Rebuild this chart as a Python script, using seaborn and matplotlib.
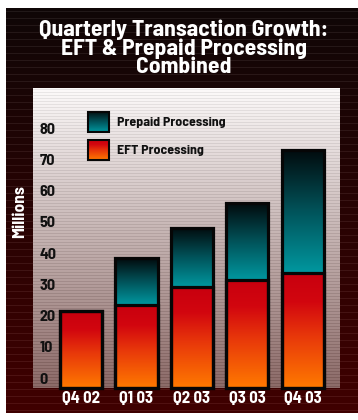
import numpy as np
import matplotlib
matplotlib.use("Agg")
import matplotlib.pyplot as plt
import seaborn as sns
import pandas as pd
from matplotlib.colors import LinearSegmentedColormap
from matplotlib.patches import Rectangle

# ---- data ----
quarters = ["Q4 02", "Q1 03", "Q2 03", "Q3 03", "Q4 03"]
eft = [21.5, 23.5, 29.0, 31.5, 33.5]
prepaid = [0.0, 15.0, 19.0, 24.5, 39.5]
yticks = [0, 10, 20, 30, 40, 50, 60, 70, 80]
title = "Quarterly Transaction Growth:\nEFT & Prepaid Processing\nCombined"
ylabel = "Millions"
series = ["Prepaid Processing", "EFT Processing"]

total = [e + p for e, p in zip(eft, prepaid)]
df = pd.DataFrame({"quarter": quarters, "eft": eft, "total": total})

sns.set_theme(style="white")
FONT = ["Barlow Semi Condensed", "DejaVu Sans"]
plt.rcParams["font.family"] = FONT
plt.rcParams["font.weight"] = "bold"

W, H = 358, 420
fig = plt.figure(figsize=(W / 100, H / 100), dpi=100)
fig.patch.set_facecolor("white")

# ---- dark figure background ----
bg = fig.add_axes([6 / W, 1 - 413 / H, 352 / W, 405 / H], zorder=0)
rows = 405
t = np.linspace(0, 1, rows)[:, None]
c_top = np.array([0.06, 0.025, 0.025])
c_bot = np.array([0.25, 0.0, 0.0])
cols = c_top + (c_bot - c_top) * t
idx = np.arange(rows)
cols[(idx % 7) == 3] += 0.07
cols = np.clip(cols, 0, 1)
bg.imshow(cols[:, None, :], aspect="auto", interpolation="nearest", extent=(0, 1, 0, 1))
bg.set_axis_off()

# ---- main axes ----
ax = fig.add_axes([33 / W, 1 - 388 / H, 307 / W, 300 / H], zorder=1)
rows = 300
t = np.linspace(0, 1, rows)[:, None]
a_top = np.array([0.99, 0.98, 0.98])
a_bot = np.array([0.55, 0.42, 0.41])
acols = a_top + (a_bot - a_top) * t
idx = np.arange(rows)
acols[(idx % 3) == 1] -= 0.07
acols = np.clip(acols, 0, 1)
ax.imshow(acols[:, None, :], aspect="auto", interpolation="nearest",
          extent=(0, 1, 0, 1), transform=ax.transAxes, zorder=0)

YMIN, YMAX = -3.2, 92.9
EDGE = "#060606"

sns.barplot(data=df, x="quarter", y="total", ax=ax, color="white", width=0.76,
            edgecolor=EDGE, linewidth=2.3, errorbar=None, zorder=3)
sns.barplot(data=df, x="quarter", y="eft", ax=ax, color="white", width=0.76,
            edgecolor=EDGE, linewidth=2.3, errorbar=None, zorder=3)

teal_cmap = LinearSegmentedColormap.from_list(
    "teal", [(0, "#00979f"), (0.5, "#01535a"), (1, "#020a0c")])
eft_cmap = LinearSegmentedColormap.from_list(
    "eft", [(0, "#ff7a00"), (0.45, "#e8380a"), (0.75, "#d2060f"), (1, "#c8000e")])
grad = np.linspace(0, 1, 256)[:, None]

bar_patches = list(ax.patches)
for p in bar_patches:
    top = p.get_y() + p.get_height()
    p.set_y(YMIN)
    p.set_height(top - YMIN)
    p.set_facecolor("none")
    p.set_clip_on(False)

tot_patches = bar_patches[:5]
for i in range(len(quarters)):
    p = tot_patches[i]
    x0, x1 = p.get_x(), p.get_x() + p.get_width()
    if prepaid[i] > 0:
        ax.imshow(grad, cmap=teal_cmap, origin="lower", aspect="auto",
                  extent=(x0, x1, eft[i], total[i]), zorder=2, interpolation="bilinear")
    ax.imshow(grad, cmap=eft_cmap, origin="lower", aspect="auto",
              extent=(x0, x1, YMIN, eft[i]), zorder=2, interpolation="bilinear")

ax.set_xlim(-0.865, 4.67)
ax.set_ylim(YMIN, YMAX)
for s in ax.spines.values():
    s.set_visible(False)
ax.set_xlabel("")
ax.set_ylabel("")
ax.set_yticks(yticks)
ax.set_yticklabels([str(v) for v in yticks], fontsize=11.5, fontweight="bold",
                   color="#111111", ha="left")
ax.tick_params(axis="y", length=0, pad=-4.5)
ax.set_xticks(range(len(quarters)))
ax.set_xticklabels(quarters, fontsize=12, fontweight="bold", color="white")
ax.tick_params(axis="x", length=0, pad=2)

# ---- legend ----
leg_y = [0.853, 0.76]
leg_cmaps = [teal_cmap, eft_cmap]
for name, yb, cm in zip(series, leg_y, leg_cmaps):
    ax.imshow(grad, cmap=cm, origin="lower", aspect="auto",
              extent=(0.179, 0.247, yb, yb + 0.0667), transform=ax.transAxes, zorder=4)
    ax.add_patch(Rectangle((0.179, yb), 0.068, 0.0667, transform=ax.transAxes,
                           facecolor="none", edgecolor=EDGE, linewidth=1.5, zorder=5))
    ax.text(0.274, yb + 0.0333, name, transform=ax.transAxes, fontsize=10,
            fontweight="bold", color="#111111", va="center", ha="left", zorder=5)

# ---- title & y label ----
fig.text(184 / W, 1 - 19 / H, title, ha="center", va="top", multialignment="center",
         color="white", fontsize=17, fontweight="bold", linespacing=0.92, zorder=5)

fig.text(20 / W, 1 - 212 / H, ylabel, rotation=90, ha="center", va="center",
         color="white", fontsize=12.5, fontweight="bold", zorder=5)

fig.savefig("out.png", dpi=100, facecolor=fig.get_facecolor())
